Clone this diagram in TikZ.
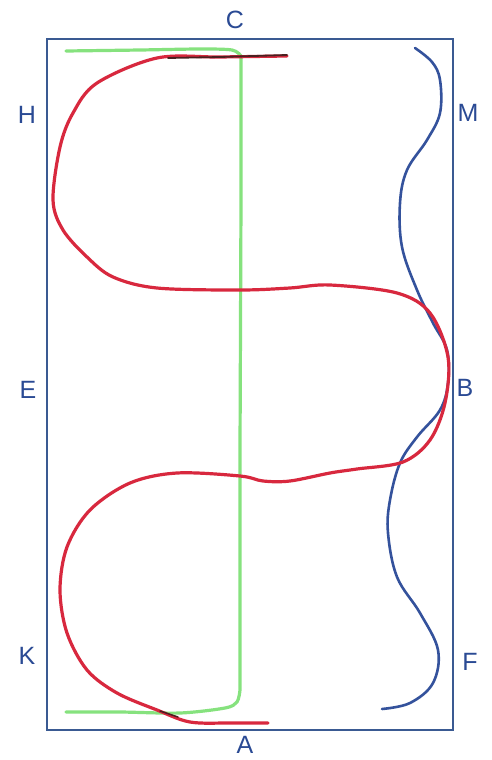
\documentclass[tikz,border=0pt]{standalone}
\usepackage{fontspec}
\setmainfont{Liberation Sans}
\definecolor{arena}{HTML}{3A5A92}
\definecolor{letter}{HTML}{2A4A94}
\definecolor{redpath}{HTML}{D8283E}
\definecolor{greenpath}{HTML}{86E27E}
\definecolor{bluepath}{HTML}{34529C}
\definecolor{darkink}{HTML}{4A2020}
\begin{document}
\begin{tikzpicture}[x=1pt,y=-1pt,
  lbl/.style={text=letter,font=\fontsize{25}{25}\selectfont,inner sep=0pt},
  ink/.style={line width=3.2pt,line cap=round,line join=round}]
\useasboundingbox (0,0) rectangle (491,760);
\fill[white] (0,0) rectangle (491,760);
% arena
\draw[arena,line width=1.5pt] (47,39) rectangle (453,730);
% letters
\node[lbl] (C) at (235,20) {C};
\node[lbl] (H) at (27,115) {H};
\node[lbl] (M) at (468,113) {M};
\node[lbl] (E) at (28,390) {E};
\node[lbl] (B) at (465,388) {B};
\node[lbl] (K) at (27,656) {K};
\node[lbl] (F) at (470,662) {F};
\node[lbl] (A) at (245,745) {A};
% green centre line
\draw[ink,greenpath] plot[smooth,tension=0.5] coordinates {(66,51) (140,50) (200,49) (232,50) (241,56)}
  -- (241,200) -- (240,450) -- (240,690)
  plot[smooth,tension=0.5] coordinates {(240,690) (237,702) (225,708) (180,713) (120,712) (66,712)};
% blue serpentine
\draw[ink,bluepath,line width=2.6pt] plot[smooth,tension=0.6] coordinates {
 (415,48) (432,62) (440,80) (440,113) (427,140) (407,170) (400,203) (402,247) (417,290)
 (433,323) (447,350) (448,383) (440,410) (417,437) (400,463) (390,500) (388,533) (397,577)
 (420,613) (438,650) (433,683) (410,703) (382,709)};
% red serpentine
\draw[ink,redpath] plot[smooth,tension=0.55] coordinates {
 (287,56) (220,57) (157,58) (97,83) (73,113) (60,147) (53,200) (63,230) (87,257) (113,277)
 (157,288) (240,290) (290,288) (330,285) (397,293) (430,313) (448,357) (445,403) (430,440)
 (403,462) (357,469) (330,473) (290,481) (263,481) (240,476) (177,473) (130,483) (90,510)
 (67,547) (60,590) (67,633) (87,670) (117,693) (157,710) (190,722) (230,723) (268,723)};
% dark overlays
\draw[darkink,line width=1.8pt,line cap=round] (168,58) -- (220,57) -- (287,55);
\draw[darkink,line width=1.5pt,line cap=round] (160,711) -- (178,717);
\end{tikzpicture}
\end{document}
